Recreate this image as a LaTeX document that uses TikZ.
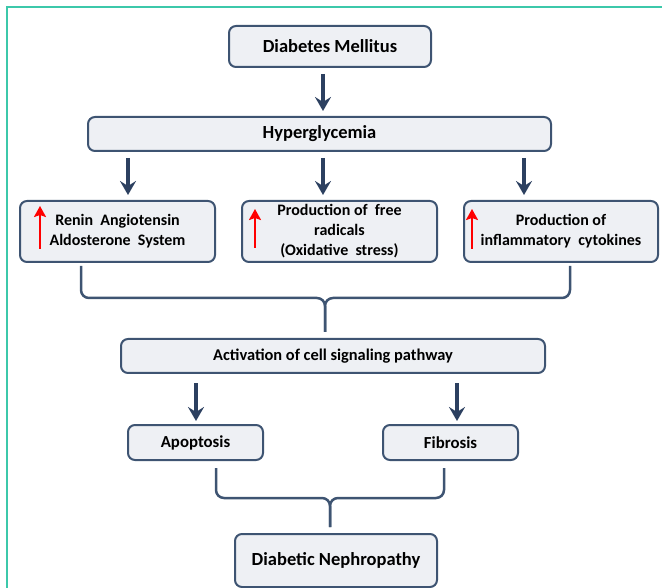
\documentclass[tikz,border=0pt]{standalone}
\usepackage{fontspec}
\setmainfont{Carlito}
\usetikzlibrary{arrows.meta}

\definecolor{boxfill}{RGB}{238,240,244}
\definecolor{boxline}{RGB}{62,84,114}
\definecolor{flowcol}{RGB}{44,64,96}
\definecolor{framecol}{RGB}{60,200,170}

\tikzset{
  box/.style={draw=boxline, fill=boxfill, line width=2pt, rounded corners=7pt,
    align=center, inner sep=0pt, font=\bfseries},
  flow/.style={draw=flowcol, line width=3.5pt, -{Stealth[length=14pt,width=16pt,inset=5pt]}},
  brace/.style={draw=boxline, line width=2.5pt, rounded corners=8pt},
  uparrow/.style={draw=red, line width=2.4pt, -{Stealth[length=11pt,width=12pt,inset=2pt]}}
}

\begin{document}
\begin{tikzpicture}[x=1pt, y=-1pt]
			% page size and the frame line
			\useasboundingbox (0,0) rectangle (662,588);
			\draw[framecol, line width=2pt] (662,7) -- (7,7) -- (7,588);

			% the boxes
			\node (dm) at (330,46.5) [box, minimum width=202pt, minimum height=41pt,
				font=\bfseries\fontsize{18.5}{22}\selectfont] {Diabetes Mellitus};
			\node (hyp) at (319.5,134) [box, minimum width=463pt, minimum height=34pt,
				font=\bfseries\fontsize{18.5}{22}\selectfont] {Hyperglycemia};
			\node (ren) at (117.5,231.5) [box, minimum width=195pt, minimum height=61pt,
				font=\bfseries\fontsize{16}{20}\selectfont] {Renin\ \ Angiotensin\\Aldosterone\ \ System};
			\node (rad) at (339.5,231.5) [box, minimum width=195pt, minimum height=61pt,
				font=\bfseries\fontsize{16}{20}\selectfont] {Production of\ \ free\\radicals\\(Oxidative\ \ stress)};
			\node (inf) at (561,231.5) [box, minimum width=194pt, minimum height=61pt,
				font=\bfseries\fontsize{16}{20}\selectfont] {Production of\\inflammatory\ \ cytokines};
			\node (act) at (333,356) [box, minimum width=424pt, minimum height=34pt,
				font=\bfseries\fontsize{16.4}{20}\selectfont] {Activation of cell signaling pathway};
			\node (apo) at (195.5,442.5) [box, minimum width=135pt, minimum height=35pt,
				font=\bfseries\fontsize{16.8}{20}\selectfont] {Apoptosis};
			\node (fib) at (450.5,442.5) [box, minimum width=135pt, minimum height=35pt,
				font=\bfseries\fontsize{16.8}{20}\selectfont] {Fibrosis};
			\node (dn) at (336,560.5) [box, minimum width=202pt, minimum height=53pt,
				font=\bfseries\fontsize{18.5}{22}\selectfont] {Diabetic Nephropathy};

			% where the arrows and brackets sit
			\coordinate (a0) at (323,0);
			\coordinate (a1) at (128,0);
			\coordinate (a2) at (323,0);
			\coordinate (a3) at (524,0);
			\coordinate (a4) at (196,0);
			\coordinate (a5) at (457,0);
			\coordinate (bl) at (81,298);
			\coordinate (bm) at (325,298);
			\coordinate (br) at (570,298);
			\coordinate (cl) at (216,498);
			\coordinate (cm) at (330,498);
			\coordinate (cr) at (444,498);

			% arrows
			\draw[flow, shorten <=6pt, shorten >=5pt] (dm.south -| a0) -- (hyp.north -| a0);
			\draw[flow, shorten <=6pt, shorten >=5pt] (hyp.south -| a1) -- (ren.north -| a1);
			\draw[flow, shorten <=6pt, shorten >=5pt] (hyp.south -| a2) -- (rad.north -| a2);
			\draw[flow, shorten <=6pt, shorten >=5pt] (hyp.south -| a3) -- (inf.north -| a3);
			\draw[flow, shorten <=9pt, shorten >=3pt] (act.south -| a4) -- (apo.north -| a4);
			\draw[flow, shorten <=9pt, shorten >=3pt] (act.south -| a5) -- (fib.north -| a5);

			% brackets joining the boxes
			\draw[brace, shorten <=3pt, shorten >=6pt] (ren.south -| bl) -- (bl) -- (bm) -- (act.north -| bm);
			\draw[brace, shorten <=3pt, shorten >=6pt] (inf.south -| br) -- (br) -- (bm) -- (act.north -| bm);
			\draw[brace, shorten <=7pt, shorten >=6pt] (apo.south -| cl) -- (cl) -- (cm) -- (dn.north -| cm);
			\draw[brace, shorten <=7pt, shorten >=6pt] (fib.south -| cr) -- (cr) -- (cm) -- (dn.north -| cm);

			% red up arrows
			\draw[uparrow] ([xshift=21pt, yshift=14pt]ren.south west) -- ([xshift=21pt, yshift=-6pt]ren.north west);
			\draw[uparrow] ([xshift=14pt, yshift=15pt]rad.south west) -- ([xshift=14pt, yshift=-9pt]rad.north west);
			\draw[uparrow] ([xshift=9pt, yshift=14pt]inf.south west) -- ([xshift=9pt, yshift=-9pt]inf.north west);
\end{tikzpicture}
\end{document}
